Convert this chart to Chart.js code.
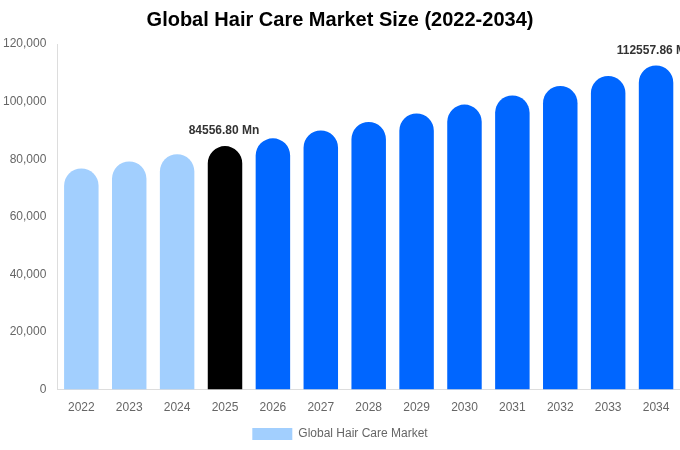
<!DOCTYPE html>
<html>
<head>
<meta charset="utf-8">
<script src="https://cdn.jsdelivr.net/npm/chart.js@4"></script>
<style>
  body { margin: 0; background: #fff; }
  #wrap { width: 680px; height: 450px; }
</style>
</head>
<body>
<div id="wrap"><canvas id="chart"></canvas></div>
<script>
// values (USD Mn)
const years = ['2022', '2023', '2024', '2025', '2026', '2027', '2028', '2029', '2030', '2031', '2032', '2033', '2034'];
const marketSize = [76800, 79200, 81700, 84556.80, 87250, 90000, 92900, 95900, 98950, 102100, 105450, 108900, 112557.86];
const barColors = ['#a2cffe', '#a2cffe', '#a2cffe', '#000000', '#0066ff', '#0066ff', '#0066ff', '#0066ff', '#0066ff', '#0066ff', '#0066ff', '#0066ff', '#0066ff'];
const labelledYears = ['2025', '2034'];

// draws "xxx Mn" above the highlighted bars
const valueLabels = {
  id: 'valueLabels',
  afterDatasetsDraw(chart) {
    const ctx = chart.ctx;
    const meta = chart.getDatasetMeta(0);
    ctx.save();
    ctx.font = 'bold 12px "Liberation Sans", Arial, sans-serif';
    ctx.fillStyle = '#333';
    ctx.textAlign = 'center';
    ctx.textBaseline = 'bottom';
    meta.data.forEach((bar, i) => {
      if (labelledYears.includes(years[i])) {
        ctx.fillText(marketSize[i].toFixed(2) + ' Mn', bar.x - 1, bar.y - 9);
      }
    });
    ctx.restore();
  }
};

Chart.defaults.font.family = '"Liberation Sans", Arial, sans-serif';

new Chart(document.getElementById('chart'), {
  type: 'bar',
  data: {
    labels: years,
    datasets: [{
      label: 'Global Hair Care Market',
      data: marketSize,
      backgroundColor: barColors,
      borderRadius: { topLeft: 30, topRight: 30, bottomLeft: 0, bottomRight: 0 },
      borderSkipped: false,
      categoryPercentage: 0.8,
      barPercentage: 0.9
    }]
  },
  options: {
    responsive: true,
    maintainAspectRatio: false,
    animation: false,
    layout: { padding: { left: 0, right: 0, top: 0, bottom: 0 } },
    plugins: {
      title: {
        display: true,
        text: 'Global Hair Care Market Size (2022-2034)',
        color: '#000',
        font: { size: 20, weight: 'bold' },
        padding: { top: 8, bottom: 12 }
      },
      legend: {
        position: 'bottom',
        labels: { color: '#666', font: { size: 12 }, boxWidth: 40, boxHeight: 12 }
      },
      tooltip: { enabled: false }
    },
    scales: {
      x: {
        grid: { display: false },
        border: { display: true, color: '#ddd' },
        ticks: { color: '#666', font: { size: 12 } }
      },
      y: {
        min: 0,
        max: 120000,
        ticks: { stepSize: 20000, color: '#666', font: { size: 12 } },
        grid: { display: false },
        border: { display: true, color: '#ddd' }
      }
    }
  },
  plugins: [valueLabels]
});
</script>
</body>
</html>
